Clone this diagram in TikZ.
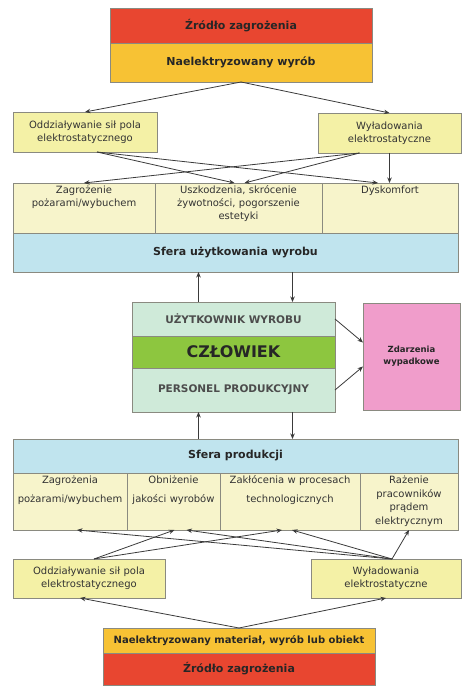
\documentclass[tikz,border=0pt]{standalone}
\usepackage{fontspec}
\setmainfont{DejaVu Sans}
\usepackage{xcolor}
\definecolor{hazard}{HTML}{E84630}
\definecolor{charged}{HTML}{F7C234}
\definecolor{effect}{HTML}{F7F4CB}
\definecolor{cause}{HTML}{F4F1A6}
\definecolor{sphere}{HTML}{C0E4EE}
\definecolor{person}{HTML}{CFEAD9}
\definecolor{human}{HTML}{8DC63F}
\definecolor{accident}{HTML}{F09DCB}
\definecolor{frame}{HTML}{8A8A80}
\definecolor{wire}{HTML}{3A3A3A}
\usetikzlibrary{arrows.meta, positioning}

\begin{document}
\begin{tikzpicture}[x=1pt, y=1pt, >={Stealth[length=5.5pt, width=4.5pt]},
  box/.style={draw=frame, line width=0.9pt, outer sep=0pt, inner sep=0pt, align=center},
  band/.style={box, font=\fontsize{11}{13}\selectfont\bfseries, text=black!85},
  sidebox/.style={box, fill=cause, minimum height=40pt,
    font=\fontsize{10}{13}\selectfont, text=black!80},
  cell/.style={box, fill=effect, inner xsep=1pt, inner ysep=2pt, text height=9pt,
    font=\fontsize{10}{13}\selectfont, text=black!80},
  caps/.style={box, fill=person, minimum width=203pt,
    font=\fontsize{10.5}{12}\selectfont\bfseries, text=black!70},
  link/.style={->, wire, line width=0.8pt}]

  \useasboundingbox (0,0) rectangle (462,686);

  \node[band, fill=hazard, minimum width=262pt, minimum height=35pt,
        anchor=north west] (src1) at (110,678) {Źródło zagrożenia};
  \node[band, fill=charged, minimum width=262pt, minimum height=39pt,
        below=0pt of src1] (prod1) {Naelektryzowany wyrób};

  \node[sidebox, text width=144pt, anchor=north west] (oddz1) at (13,574)
        {Oddziaływanie sił pola\\elektrostatycznego};
  \node[sidebox, text width=143pt, anchor=north west] (wyl1) at (318,573)
        {Wyładowania\\elektrostatyczne};

  \node[cell, text width=140pt, text depth=37pt, anchor=north west] (zagr1) at (13,503)
        {Zagrożenie\\pożarami/wybuchem};
  \node[cell, text width=165pt, text depth=37pt, right=0pt of zagr1] (uszk1)
        {Uszkodzenia, skrócenie\\żywotności, pogorszenie\\estetyki};
  \node[cell, text width=134pt, text depth=37pt, right=0pt of uszk1] (dysk1)
        {Dyskomfort};

  \node[band, fill=sphere, minimum width=445pt, minimum height=39pt,
        anchor=north west] (sfera1) at (zagr1.south west) {Sfera użytkowania wyrobu};

  \node[caps, minimum height=34pt, anchor=north west] (uzyt) at (132,384)
        {UŻYTKOWNIK WYROBU};
  \node[box, fill=human, minimum width=203pt, minimum height=32pt,
        font=\fontsize{16}{18}\selectfont\bfseries, text=black!85,
        below=0pt of uzyt] (czlowiek) {CZŁOWIEK};
  \node[caps, minimum height=44pt, below=0pt of czlowiek] (pers)
        {PERSONEL PRODUKCYJNY};

  \node[box, fill=accident, minimum width=97pt, minimum height=107pt,
        font=\fontsize{8.5}{12}\selectfont\bfseries, text=black!85,
        anchor=north west] (wypadek) at (363,383) {Zdarzenia\\wypadkowe};

  \node[band, fill=sphere, minimum width=445pt, minimum height=34pt,
        anchor=north west] (sfera2) at (13,247) {Sfera produkcji};

  \node[cell, text width=112pt, text depth=44pt, anchor=north west] (zagr2)
        at (sfera2.south west) {Zagrożenia\\[6pt]pożarami/wybuchem};
  \node[cell, text width=91pt, text depth=44pt, right=0pt of zagr2] (obniz2)
        {Obniżenie\\[6pt]jakości wyrobów};
  \node[cell, text width=138pt, text depth=44pt, right=0pt of obniz2] (zakl2)
        {Zakłócenia w procesach\\[6pt]technologicznych};
  \node[cell, text width=96pt, text depth=44pt, right=0pt of zakl2,
        font=\fontsize{10}{13.5}\selectfont] (raz2)
        {Rażenie\\pracowników\\prądem\\elektrycznym};

  \node[sidebox, text width=152pt, minimum height=39pt, anchor=north west] (oddz2)
        at (13,127) {Oddziaływanie sił pola\\elektrostatycznego};
  \node[sidebox, text width=150pt, minimum height=39pt, anchor=north west] (wyl2)
        at (311,127) {Wyładowania\\elektrostatyczne};

  \node[band, fill=charged, minimum width=272pt, minimum height=25pt,
        font=\fontsize{10}{12}\selectfont\bfseries, anchor=north west] (prod2)
        at (103,58) {Naelektryzowany materiał, wyrób lub obiekt};
  \node[band, fill=hazard, minimum width=272pt, minimum height=32pt,
        below=0pt of prod2] (src2) {Źródło zagrożenia};

  \draw[link] (prod1.south) -- (oddz1.north);
  \draw[link] (prod1.south) -- (wyl1.north);
  \draw[link] ([xshift=12pt]oddz1.south) -- ([xshift=-4pt]uszk1.north);
  \draw[link] ([xshift=12pt]oddz1.south) -- ([xshift=-12pt]dysk1.north);
  \draw[link] ([xshift=-30pt]wyl1.south) -- (zagr1.north);
  \draw[link] ([xshift=-30pt]wyl1.south) -- ([xshift=6pt]uszk1.north);
  \draw[link] (wyl1.south) -- (wyl1.south |- dysk1.north);

  \draw[link] ([xshift=-35pt]uzyt.north) -- ([xshift=-35pt]uzyt.north |- sfera1.south);
  \draw[link] ([xshift=59pt]uzyt.north |- sfera1.south) -- ([xshift=59pt]uzyt.north);
  \draw[link] (uzyt.east) -- ([yshift=14pt]wypadek.west);
  \draw[link] (pers.east) -- ([yshift=-10pt]wypadek.west);
  \draw[link] ([xshift=-35pt]pers.south |- sfera2.north) -- ([xshift=-35pt]pers.south);
  \draw[link] ([xshift=59pt]pers.south) -- ([xshift=59pt]pers.south |- sfera2.north);

  \draw[link] ([xshift=5pt]oddz2.north) -- ([xshift=1pt]obniz2.south);
  \draw[link] ([xshift=5pt]oddz2.north) -- ([xshift=-8pt]zakl2.south);
  \draw[link] ([xshift=6pt]wyl2.north) -- ([xshift=7pt]zagr2.south);
  \draw[link] ([xshift=6pt]wyl2.north) -- ([xshift=13pt]obniz2.south);
  \draw[link] ([xshift=6pt]wyl2.north) -- ([xshift=2pt]zakl2.south);
  \draw[link] ([xshift=6pt]wyl2.north) -- (raz2.south);
  \draw[link] (prod2.north) -- ([xshift=-9pt]oddz2.south);
  \draw[link] (prod2.north) -- (wyl2.south);

\end{tikzpicture}
\end{document}
